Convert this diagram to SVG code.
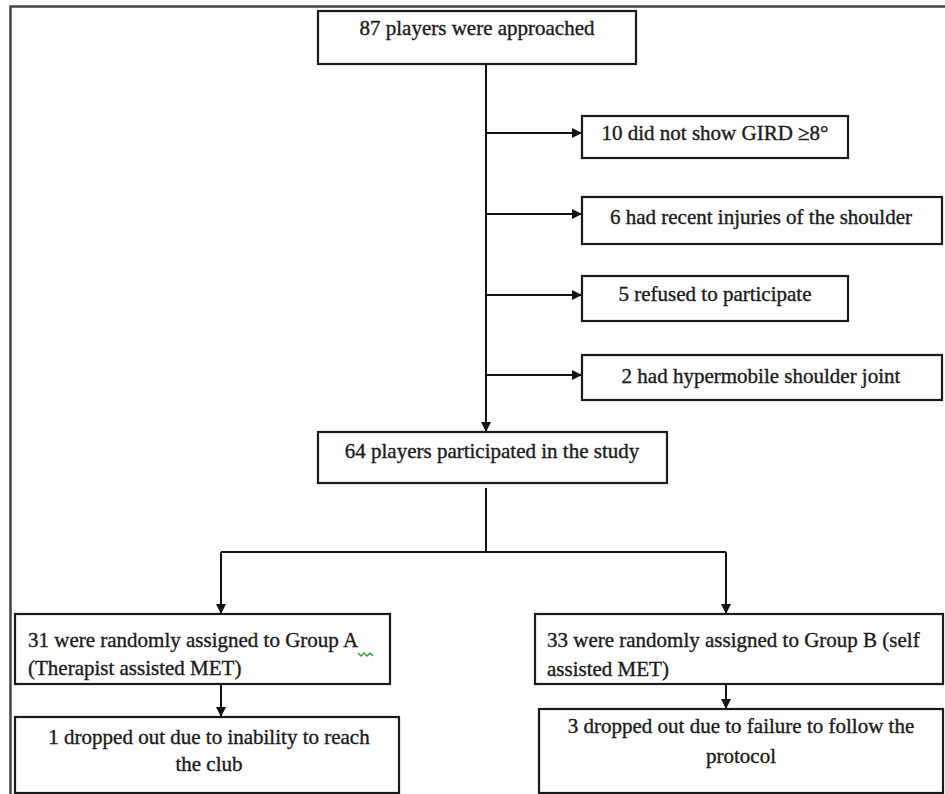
<svg xmlns="http://www.w3.org/2000/svg" width="945" height="794" viewBox="0 0 945 794">
<style>
.box{fill:#fff;stroke:#1a1a1a;stroke-width:2.2}
.ln{fill:none;stroke:#111;stroke-width:2}
.t{font-family:"Liberation Serif","Times New Roman","DejaVu Serif",serif;font-size:21px;fill:#1a1a1a;stroke:#1a1a1a;stroke-width:0.35}
.c{text-anchor:middle}
</style>
<defs>
<marker id="ah" markerWidth="10" markerHeight="10" refX="9" refY="5" orient="auto" markerUnits="userSpaceOnUse">
<path d="M0,0 L10,5 L0,10 Z" fill="#111"/>
</marker>
</defs>
<rect width="945" height="794" fill="#fff"/>
<path d="M10.5,794 V6.5 H945" fill="none" stroke="#444" stroke-width="2.5"/>
<g id="connectors">
<path class="ln" d="M486,64 V431" marker-end="url(#ah)"/>
<path class="ln" d="M486,133 H581" marker-end="url(#ah)"/>
<path class="ln" d="M486,214 H581" marker-end="url(#ah)"/>
<path class="ln" d="M486,295 H581" marker-end="url(#ah)"/>
<path class="ln" d="M486,375 H581" marker-end="url(#ah)"/>
<path class="ln" d="M486,488 V552"/>
<path class="ln" d="M221,552 H726"/>
<path class="ln" d="M221,552 V613" marker-end="url(#ah)"/>
<path class="ln" d="M726,552 V613" marker-end="url(#ah)"/>
<path class="ln" d="M221,684 V716" marker-end="url(#ah)"/>
<path class="ln" d="M726,684 V708" marker-end="url(#ah)"/>
</g>
<g id="n_approached">
<rect class="box" x="318" y="11" width="318" height="53"/>
<text class="t c" x="477" y="35">87 players were approached</text>
</g>
<g id="n_gird">
<rect class="box" x="582" y="116" width="266" height="42"/>
<text class="t c" x="715" y="140">10 did not show GIRD ≥8°</text>
</g>
<g id="n_injuries">
<rect class="box" x="582" y="197" width="360" height="47"/>
<text class="t c" x="761" y="224">6 had recent injuries of the shoulder</text>
</g>
<g id="n_refused">
<rect class="box" x="582" y="276" width="266" height="45"/>
<text class="t c" x="715" y="301">5 refused to participate</text>
</g>
<g id="n_hypermobile">
<rect class="box" x="582" y="355" width="360" height="45"/>
<text class="t c" x="761" y="383">2 had hypermobile shoulder joint</text>
</g>
<g id="n_participated">
<rect class="box" x="318" y="432" width="349" height="51"/>
<text class="t c" x="492" y="458">64 players participated in the study</text>
</g>
<g id="n_groupA">
<rect class="box" x="15" y="614" width="375" height="70"/>
<text class="t" x="28" y="647">31 were randomly assigned to Group A</text>
<text class="t" x="28" y="675">(Therapist assisted MET)</text>
<path d="M358,653 l3,3 l3,-3 l3,3 l3,-3 l3,3" fill="none" stroke="#2a9a2a" stroke-width="1.3"/>
</g>
<g id="n_groupB">
<rect class="box" x="535" y="614" width="408" height="70"/>
<text class="t" x="547" y="647">33 were randomly assigned to Group B (self</text>
<text class="t" x="547" y="676">assisted MET)</text>
</g>
<g id="n_dropA">
<rect class="box" x="15" y="717" width="384" height="76"/>
<text class="t c" x="209" y="744">1 dropped out due to inability to reach</text>
<text class="t c" x="209" y="771">the club</text>
</g>
<g id="n_dropB">
<rect class="box" x="539" y="709" width="404" height="84"/>
<text class="t c" x="741" y="733">3 dropped out due to failure to follow the</text>
<text class="t c" x="741" y="763">protocol</text>
</g>
</svg>
